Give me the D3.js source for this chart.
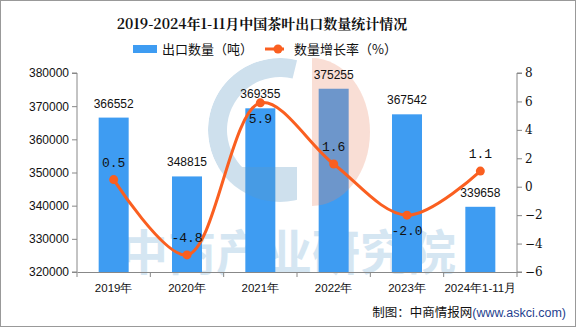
<!DOCTYPE html>
<html><head><meta charset="utf-8">
<script src="https://cdn.jsdelivr.net/npm/d3@7/dist/d3.min.js"></script>
<style>body{margin:0;background:#fff}svg{display:block}</style>
</head><body>
<script>
const categories = ["2019年","2020年","2021年","2022年","2023年","2024年1-11月"];
const quantity = [366552,348815,369355,375255,367542,339658];
const growth = [0.5,-4.8,5.9,1.6,-2.0,1.1];
const growthLabels = ["0.5","-4.8","5.9","1.6","-2.0","1.1"];
const labelBelow = [false,false,true,false,true,false];
const leftTicks = [320000,330000,340000,350000,360000,370000,380000];
const rightTicks = [-6,-4,-2,0,2,4,6,8];

const W=576,H=327;
const svg=d3.select("body").append("svg").attr("width",W).attr("height",H);
svg.append("rect").attr("x",0.5).attr("y",0.5).attr("width",W-1).attr("height",H-1).attr("fill","#fff").attr("stroke","#999");

const x0=77,x1=517,yTop=73,yBot=272;
const x=d3.scaleBand().domain(categories).range([x0,x1]);
const yL=d3.scaleLinear().domain([320000,380000]).range([yBot,yTop]);
const yR=d3.scaleLinear().domain([-6,8]).range([yBot,yTop]);

// watermark text (behind bars)
svg.append("text").attr("x",288).attr("y",270).attr("text-anchor","middle")
  .attr("font-family","Noto Sans CJK SC").attr("font-weight","bold").attr("font-size",48)
  .attr("fill","#d5e6f2").text("中商产业研究院");

// bars
svg.append("g").selectAll("rect").data(quantity).join("rect")
  .attr("x",(d,i)=>x(categories[i])+x.bandwidth()/2-15).attr("width",30)
  .attr("y",d=>yL(d)).attr("height",d=>yBot-yL(d)).attr("fill","#3e9cf2");

// watermark logo (over bars, translucent)
const defs=svg.append("defs");
defs.append("clipPath").attr("id","cc").append("circle").attr("cx",280).attr("cy",130).attr("r",72);
defs.append("clipPath").attr("id","oc").append("path")
  .attr("d","M312,58 A58,74 0 0 1 312,206 Z");
const wm=svg.append("g").attr("clip-path","url(#cc)").attr("opacity",0.3);
const blueWm="#5e98c4";
wm.append("path").attr("d",d3.arc()({innerRadius:53,outerRadius:72,startAngle:Math.PI,endAngle:2*Math.PI+0.24}))
  .attr("transform","translate(280,130)").attr("fill",blueWm);
wm.append("rect").attr("x",200).attr("y",167).attr("width",97).attr("height",50).attr("fill",blueWm);
svg.append("rect").attr("x",312).attr("y",56).attr("width",80).attr("height",152).attr("clip-path","url(#oc)")
  .attr("fill","#ea8a68").attr("opacity",0.28);

// axes
const axL=svg.append("g").attr("transform",`translate(${x0},0)`).call(d3.axisLeft(yL).tickValues(leftTicks).tickSize(5).tickFormat(d3.format("d")));
const axR=svg.append("g").attr("transform",`translate(${x1},0)`).call(d3.axisRight(yR).tickValues(rightTicks).tickSize(5).tickFormat(d=>d<0?"−"+(-d):d));
const axB=svg.append("g").attr("transform",`translate(0,${yBot})`).call(d3.axisBottom(x).tickSize(0).tickPadding(12));
[axL,axR,axB].forEach(a=>{a.select(".domain").attr("stroke","#888");a.selectAll("line").attr("stroke","#888");
  a.selectAll("text").attr("fill","#111").attr("font-family","Liberation Sans, Arial").attr("font-size",12);});
axL.select(".domain").attr("d",`M-5,${yTop}H0V${yBot}H-5`);
axR.select(".domain").attr("d",`M5,${yTop}H0V${yBot}H5`);
axR.selectAll("text").attr("font-family","DejaVu Serif").attr("font-size",12);
axB.selectAll("text").attr("font-size",11.5);
// bottom boundary ticks
svg.append("g").selectAll("line").data(categories.slice(1)).join("line")
  .attr("x1",d=>x(d)).attr("x2",d=>x(d)).attr("y1",yBot).attr("y2",yBot+5).attr("stroke","#888");
svg.append("line").attr("x1",x0).attr("x2",x0).attr("y1",yBot).attr("y2",yBot+5).attr("stroke","#888");
svg.append("line").attr("x1",x1).attr("x2",x1).attr("y1",yBot).attr("y2",yBot+5).attr("stroke","#888");

// bar labels
svg.append("g").selectAll("text").data(quantity).join("text")
  .attr("x",(d,i)=>x(categories[i])+x.bandwidth()/2).attr("y",d=>yL(d)-10)
  .attr("text-anchor","middle").attr("font-family","Liberation Sans, Arial").attr("font-size",12).attr("fill","#111").text(d=>d);

// line
const cx=(i)=>x(categories[i])+x.bandwidth()/2;
svg.append("path").datum(growth)
  .attr("d",d3.line().x((d,i)=>cx(i)).y(d=>yR(d)).curve(d3.curveCatmullRom.alpha(0.5)))
  .attr("fill","none").attr("stroke","#fa5f20").attr("stroke-width",3);
svg.append("g").selectAll("circle").data(growth).join("circle")
  .attr("cx",(d,i)=>cx(i)).attr("cy",d=>yR(d)).attr("r",4.5).attr("fill","#fa5f20");
svg.append("g").selectAll("text").data(growth).join("text")
  .attr("x",(d,i)=>cx(i)).attr("y",(d,i)=>yR(d)+(labelBelow[i]?20:-13))
  .attr("text-anchor","middle").attr("font-family","Liberation Mono, DejaVu Sans Mono").attr("font-size",13).attr("fill","#111")
  .text((d,i)=>growthLabels[i]);

// title
svg.append("text").attr("x",262).attr("y",29).attr("text-anchor","middle")
  .attr("font-family","Noto Serif CJK SC, Noto Sans CJK SC").attr("font-weight","bold").attr("font-size",14).attr("fill","#111")
  .text("2019-2024年1-11月中国茶叶出口数量统计情况");

// legend
svg.append("rect").attr("x",133).attr("y",45).attr("width",24).attr("height",8).attr("fill","#3e9cf2");
svg.append("text").attr("x",162).attr("y",54).attr("font-family","Noto Sans CJK SC").attr("font-size",13).attr("fill","#111").text("出口数量（吨）");
svg.append("line").attr("x1",265).attr("x2",284).attr("y1",49).attr("y2",49).attr("stroke","#fa5f20").attr("stroke-width",3);
svg.append("circle").attr("cx",278).attr("cy",49).attr("r",4.5).attr("fill","#fa5f20");
svg.append("text").attr("x",294).attr("y",54).attr("font-family","Noto Sans CJK SC").attr("font-size",13).attr("fill","#111").text("数量增长率（%）");

// footer
const ft=svg.append("text").attr("x",566).attr("y",317).attr("text-anchor","end").attr("font-family","Noto Sans CJK SC").attr("font-size",12.5);
ft.append("tspan").attr("fill","#111").text("制图：中商情报网");
ft.append("tspan").attr("fill","#1f3f8f").attr("font-family","Liberation Sans, Arial").text("(www.askci.com)");
</script>
</body></html>
